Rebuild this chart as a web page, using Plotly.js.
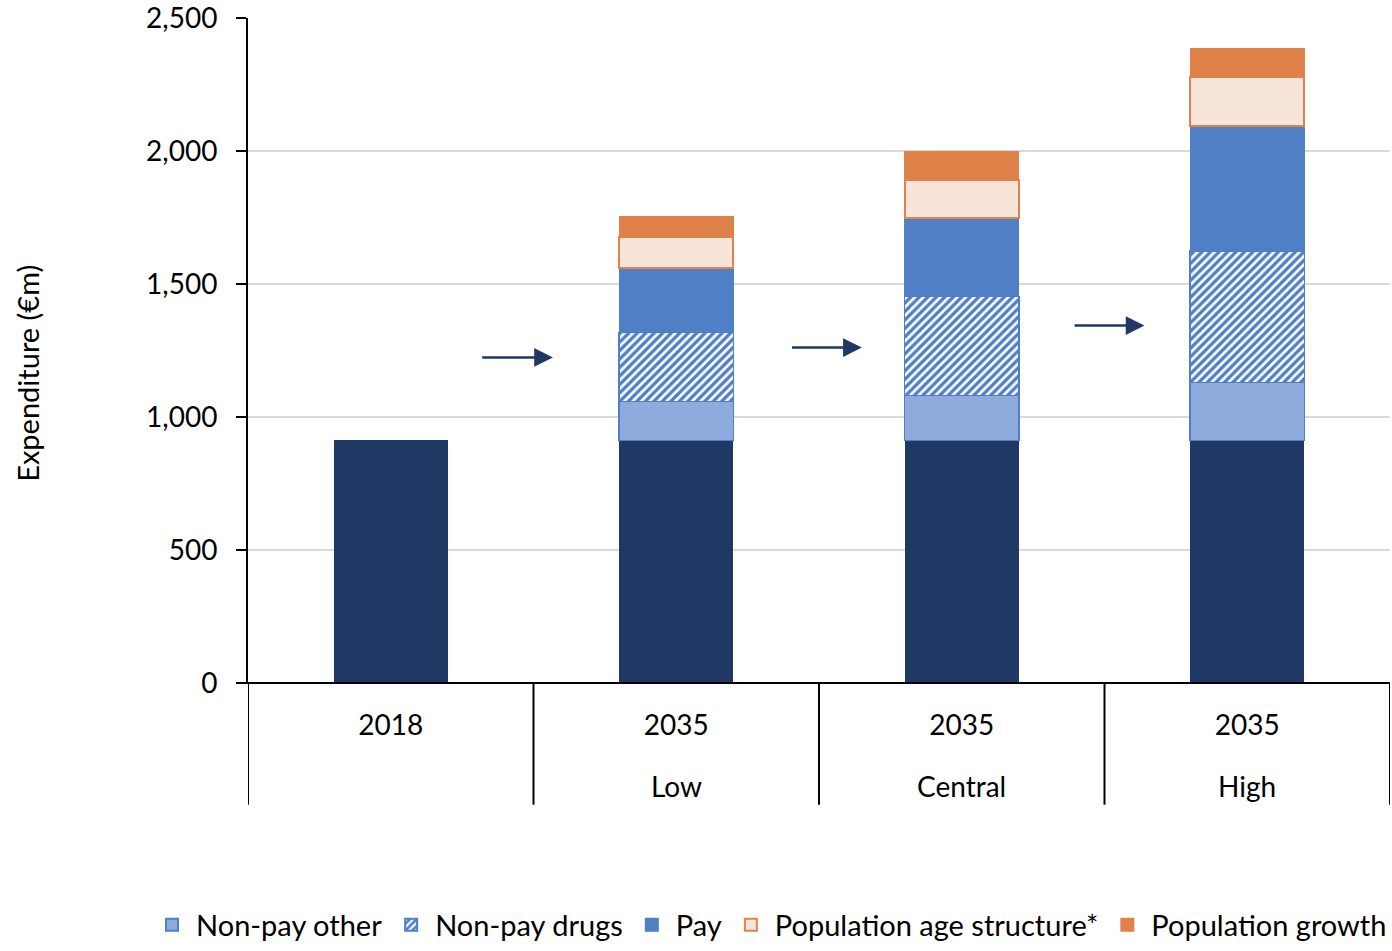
<!DOCTYPE html>
<html>
<head>
<meta charset="utf-8">
<script src="https://cdn.plot.ly/plotly-3.0.1.min.js"></script>
<style>html,body{margin:0;padding:0;background:#fff;}#chart{width:1392px;height:951px;}</style>
</head>
<body>
<div id="chart"></div>
<script>
// ---- data ----
const categories = ["2018", "2035 Low", "2035 Central", "2035 High"];
const topLabels = ["2018", "2035", "2035", "2035"];
const bottomLabels = ["", "Low", "Central", "High"];
const base = [912, 912, 912, 912];
const nonPayOther = [null, 147, 169, 218];
const nonPayDrugs = [null, 259, 372, 495];
const pay = [null, 244, 296, 470];
const popAge = [null, 116, 143, 184];
const popGrowth = [null, 75, 105, 105];
const arrowStart = [0.315, 1.40, 2.39];
const arrowEnd = [0.568, 1.65, 2.64];
const arrowLevel = [1224, 1261, 1344];
const yTickVals = [0, 500, 1000, 1500, 2000, 2500];
const yTitle = "Expenditure (€m)";

const FONT = "Lato, 'Open Sans', sans-serif";

const traces = [
  {name: "2018 base", x: categories, y: base, type: "bar", showlegend: false,
   marker: {color: "#203864", line: {width: 0}}},
  {name: "Non-pay other", x: categories, y: nonPayOther, type: "bar",
   marker: {color: "#8FAADC", line: {color: "#4F7FC6", width: 1.5}}},
  {name: "Non-pay drugs", x: categories, y: nonPayDrugs, type: "bar",
   marker: {color: "#FFFFFF", line: {color: "#4F7FC6", width: 1.5},
            pattern: {shape: "/", fgcolor: "#4F7FC6", bgcolor: "#FFFFFF", size: 6, solidity: 0.55}}},
  {name: "Pay", x: categories, y: pay, type: "bar",
   marker: {color: "#4F7FC4", line: {color: "#4F7FC4", width: 1}}},
  {name: "Population age structure*", x: categories, y: popAge, type: "bar",
   marker: {color: "#F8E5DA", line: {color: "#E0824A", width: 2}}},
  {name: "Population growth", x: categories, y: popGrowth, type: "bar",
   marker: {color: "#DF8249", line: {color: "#DF8249", width: 1}}}
];

const annotations = [];
for (let i = 0; i < arrowStart.length; i++) {
  annotations.push({x: arrowEnd[i], y: arrowLevel[i], ax: arrowStart[i], ay: arrowLevel[i],
    xref: "x", yref: "y", axref: "x", ayref: "y", text: "", showarrow: true,
    arrowhead: 2, arrowsize: 1.5, arrowwidth: 2.5, arrowcolor: "#203864"});
}
for (let i = 0; i < categories.length; i++) {
  if (bottomLabels[i]) {
    annotations.push({x: categories[i], y: -0.1547, xref: "x", yref: "paper",
      text: bottomLabels[i], showarrow: false, yanchor: "middle",
      font: {family: FONT, size: 28, color: "#000"}});
  }
}
annotations.push({x: -0.1926, y: 0.465, xref: "paper", yref: "paper", text: yTitle,
  textangle: -90, showarrow: false, xanchor: "center", yanchor: "middle",
  font: {family: FONT, size: 29, color: "#000"}});

const shapes = [];
for (let i = 0; i <= categories.length; i++) {
  shapes.push({type: "line", xref: "x", yref: "paper", x0: i - 0.5, x1: i - 0.5,
    y0: 0, y1: -0.183, line: {color: "#000", width: 2}});
}
shapes.push({type: "line", xref: "paper", yref: "paper", x0: -0.009, x1: 1, y0: 0, y1: 0,
  line: {color: "#000", width: 2}});

const layout = {
  width: 1392, height: 951,
  margin: {l: 248, r: 2, t: 18, b: 267},
  barmode: "stack", bargap: 0.6,
  paper_bgcolor: "#fff", plot_bgcolor: "#fff",
  font: {family: FONT, size: 28, color: "#000"},
  xaxis: {type: "category", tickvals: categories, ticktext: topLabels,
    showgrid: false, zeroline: false, showline: false, ticks: "", automargin: false,
    ticklabelstandoff: 23, range: [-0.5, 3.5],
    tickfont: {family: FONT, size: 28, color: "#000"}},
  yaxis: {range: [0, 2500], tickmode: "array", tickvals: yTickVals, tickformat: ",",
    showgrid: true, ticklabeloverflow: "allow", ticklabelstandoff: 13,
    gridcolor: "#D9D9D9", gridwidth: 2, zeroline: false, showline: true,
    linecolor: "#000", linewidth: 2, ticks: "outside", ticklen: 10, tickcolor: "#000",
    tickwidth: 2, tickfont: {family: FONT, size: 28, color: "#000"}},
  legend: {orientation: "h", x: -0.072, xanchor: "left", y: -0.400, yanchor: "bottom",
    font: {family: FONT, size: 29, color: "#000"}, traceorder: "normal",
    itemsizing: "constant", itemwidth: 38, tracegroupgap: 0},
  annotations: annotations,
  shapes: shapes
};

Plotly.newPlot("chart", traces, layout, {displayModeBar: false, staticPlot: true});
</script>
</body>
</html>
